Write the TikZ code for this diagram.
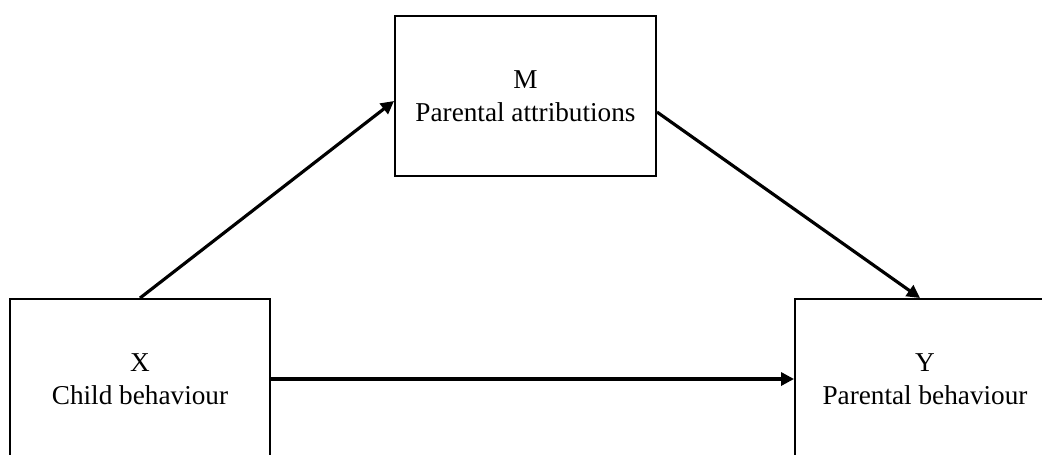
\documentclass[tikz,border=0pt]{standalone}
\usepackage{fontspec}
\setmainfont{Liberation Serif}
\usepackage{tikz}
\usetikzlibrary{positioning,arrows.meta,calc}
\tikzset{
  var/.style={draw=black, line width=1.1pt, rectangle, minimum width=5.2cm,
              minimum height=3.2cm, align=center, inner sep=2pt,
              font=\fontsize{15.5}{18.5}\selectfont},
  path/.style={-{Triangle[length=2.6mm, width=2.6mm]}, line width=1.8pt, black}
}

\begin{document}
\begin{tikzpicture}[]
\useasboundingbox (0,0) rectangle (20.84,9.08);
\clip (0,0) rectangle (20.84,9.08);
\node[var] (x) at (2.8,1.5) {X\\Child behaviour};
\node[var, minimum width=5.22cm] (m) at (10.51,7.16) {M\\Parental attributions};
\node[var] (y) at (18.5,1.5) {Y\\Parental behaviour};
\draw[path] (x.north) -- ([yshift=-0.1cm]m.west);
\draw[path] ([yshift=-0.32cm]m.east) -- ([xshift=-0.1cm]y.north);
\draw[path] (x.east) -- (y.west);
\end{tikzpicture}
\end{document}
